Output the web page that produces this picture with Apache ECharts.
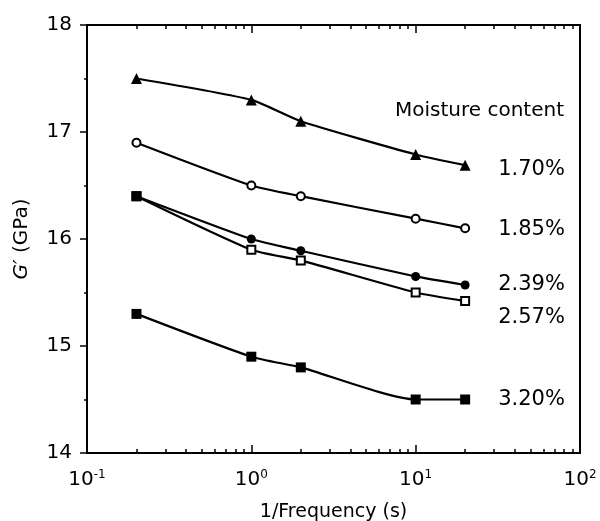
<!DOCTYPE html>
<html>
<head>
<meta charset="utf-8">
<script src="https://cdn.jsdelivr.net/npm/echarts@6/dist/echarts.min.js"></script>
<style>html,body{margin:0;padding:0;background:#fff;}#c{width:600px;height:521px;}</style>
</head>
<body>
<div id="c"></div>
<script>
// ---- data ----
var periods = [0.2, 1, 2, 10, 20];               // 1/Frequency (s)
var seriesNames = ['1.70%', '1.85%', '2.39%', '2.57%', '3.20%'];
var g170 = [17.5, 17.3, 17.1, 16.79, 16.69];
var g185 = [16.9, 16.5, 16.4, 16.19, 16.1];
var g239 = [16.4, 16.0, 15.89, 15.65, 15.57];
var g257 = [16.4, 15.9, 15.8, 15.5, 15.42];
var g320 = [15.3, 14.9, 14.8, 14.5, 14.5];
var yTicks = [14, 15, 16, 17, 18];
var xMajorTicks = [0.1, 1, 10, 100];
var xMinorTicks = [0.2,0.3,0.4,0.5,0.6,0.7,0.8,0.9, 2,3,4,5,6,7,8,9, 20,30,40,50,60,70,80,90];
var legendTitle = 'Moisture content';
var xName = '1/Frequency (s)';

// ---- styles ----
var FONT = 'DejaVu Sans';
var allValues = [g170, g185, g239, g257, g320];
var symbols = ['triangle', 'circle', 'circle', 'rect', 'rect'];
var symbolSizes = [11, 8, 9, 8, 10];
var filled = [true, false, true, false, true];
var labelOffsets = [[0, 4], [0, 1], [0, 0], [0, 16], [0, 0]];

var series = allValues.map(function (vals, i) {
  var data = vals.map(function (v, j) {
    var item = { value: [periods[j], v] };
    if (i === 2 && j === 0) { item.symbol = 'rect'; item.symbolSize = 10; }
    return item;
  });
  return {
    name: seriesNames[i],
    type: 'line',
    xAxisIndex: 0,
    yAxisIndex: 0,
    data: data,
    smooth: 0.2,
    symbol: symbols[i],
    symbolSize: symbolSizes[i],
    showAllSymbol: true,
    z: i === 2 ? 5 : 3,
    lineStyle: { color: '#000', width: 2.2 },
    itemStyle: { color: filled[i] ? '#000' : '#fff', borderColor: '#000', borderWidth: filled[i] ? 0 : 2 },
    endLabel: {
      show: true,
      formatter: '{a}',
      distance: 33,
      offset: labelOffsets[i],
      color: '#000',
      fontFamily: FONT,
      fontSize: 21
    }
  };
});

function minorAxis(pos) {
  return {
    type: 'log', logBase: 10, min: 0.1, max: 100, position: pos, gridIndex: 0,
    axisLine: { show: false },
    axisLabel: { show: false },
    splitLine: { show: false },
    axisTick: { show: true, inside: true, length: 4, customValues: xMinorTicks, lineStyle: { color: '#000', width: 1.5 } }
  };
}

var option = {
  animation: false,
  backgroundColor: '#fff',
  grid: { left: 87, right: 20, top: 25, bottom: 68, show: true, borderColor: '#000', borderWidth: 2, containLabel: false, outerBoundsMode: 'none' },
  xAxis: [
    {
      type: 'log', logBase: 10, min: 0.1, max: 100, position: 'bottom',
      name: xName, nameLocation: 'middle', nameGap: 50,
      nameTextStyle: { fontFamily: FONT, fontSize: 19, color: '#000' },
      axisLine: { show: true, lineStyle: { color: '#000', width: 2 } },
      axisTick: { show: true, inside: true, length: 8, customValues: xMajorTicks, lineStyle: { color: '#000', width: 1.5 } },
      axisLabel: {
        customValues: xMajorTicks,
        margin: 16,
        color: '#000',
        formatter: function (v) {
          var e = Math.round(Math.log10(v));
          return '{b|10}{s|' + (e < 0 ? '-' + (-e) : e) + '}';
        },
        rich: {
          b: { fontFamily: FONT, fontSize: 20, color: '#000', lineHeight: 22 },
          s: { fontFamily: FONT, fontSize: 12, color: '#000', verticalAlign: 'top', lineHeight: 22 }
        }
      },
      splitLine: { show: false }
    },
    minorAxis('bottom'),
    {
      type: 'log', logBase: 10, min: 0.1, max: 100, position: 'top', gridIndex: 0,
      axisLine: { show: true, lineStyle: { color: '#000', width: 2 } },
      axisLabel: { show: false },
      splitLine: { show: false },
      axisTick: { show: true, inside: true, length: 8, customValues: xMajorTicks, lineStyle: { color: '#000', width: 1.5 } }
    },
    minorAxis('top')
  ],
  yAxis: [
    {
      type: 'value', min: 14, max: 18, interval: 1, position: 'left',
      name: '{i|G′} (GPa)', nameLocation: 'middle', nameGap: 55, nameRotate: 90,
      nameTextStyle: {
        fontFamily: FONT, fontSize: 20, color: '#000',
        rich: { i: { fontFamily: FONT, fontSize: 20, fontStyle: 'italic', color: '#000' } }
      },
      axisLine: { show: true, lineStyle: { color: '#000', width: 2 } },
      axisTick: { show: true, inside: false, length: 7, lineStyle: { color: '#000', width: 1.5 } },
      minorTick: { show: true, splitNumber: 2, length: 3, lineStyle: { color: '#000', width: 1.5 } },
      axisLabel: {
        margin: 15, color: '#000', fontFamily: FONT, fontSize: 20,
        customValues: yTicks
      },
      splitLine: { show: false }
    },
    {
      type: 'value', min: 14, max: 18, position: 'right',
      axisLine: { show: true, lineStyle: { color: '#000', width: 2 } },
      axisTick: { show: false }, axisLabel: { show: false }, splitLine: { show: false }
    }
  ],
  graphic: [
    { type: 'text', left: 395, top: 101, style: { text: legendTitle, fontFamily: FONT, fontSize: 20, fill: '#000' } }
  ],
  series: series
};

var chart = echarts.init(document.getElementById('c'), null, { renderer: 'canvas' });
chart.setOption(option);
</script>
</body>
</html>
